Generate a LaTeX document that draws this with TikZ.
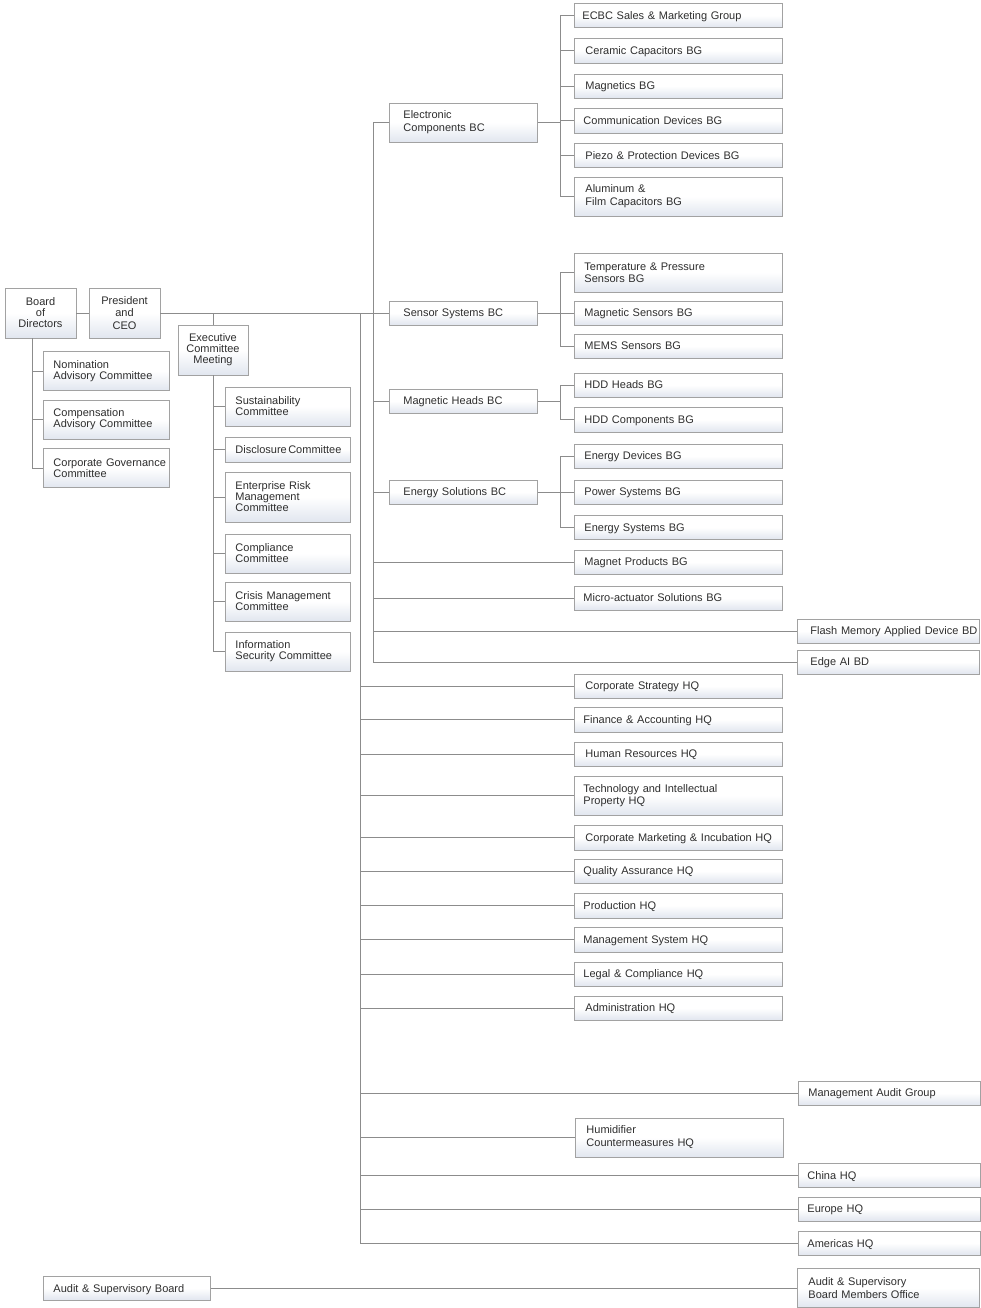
\documentclass[tikz,border=0pt]{standalone}
\usepackage{fontspec}
\setmainfont{Liberation Sans}
\definecolor{boxline}{HTML}{A2A2A2}
\definecolor{boxbot}{HTML}{E1E6EF}
\definecolor{lncol}{HTML}{8C8C8C}
\definecolor{txt}{HTML}{2E2E2E}
\tikzset{
  box/.style={draw=boxline, line width=0.9pt, top color=white, bottom color=boxbot, middle color=white,
    font=\fontsize{11}{11}\selectfont, text=txt, anchor=west, inner ysep=0pt, align=left},
  loose/.style={font=\fontsize{11}{13}\selectfont},
  wbg/.style={box, minimum width=208pt, text width=186pt, inner xsep=11pt},
  wbd/.style={box, minimum width=182pt, text width=160pt, inner xsep=11pt},
  wbc/.style={box, minimum width=148pt, text width=120pt, inner xsep=14pt},
  wcm/.style={box, minimum width=125pt, text width=105pt, inner xsep=10pt},
  wbm/.style={box, minimum width=126pt, text width=106pt, inner xsep=10pt},
  wab/.style={box, minimum width=167pt, text width=147pt, inner xsep=10pt},
  cbox/.style={box, anchor=center, align=center, inner xsep=0pt, minimum height=50pt},
  ha/.style={minimum height=24pt, text depth=0pt},
  hd/.style={minimum height=25pt, text depth=0pt},
  hb/.style={minimum height=39pt},
  hc/.style={minimum height=50pt},
  ln/.style={draw=lncol, line width=0.9pt}
}
\begin{document}
\begin{tikzpicture}[x=1pt,y=-1pt]
\useasboundingbox[fill=white] (0,0) rectangle (981,1308);
% trunk coordinates
\coordinate (tA) at (373,0);
\coordinate (tB) at (360,0);
\coordinate (sv) at (560,0);
\coordinate (bv) at (32,0);
% left column
\node[cbox, minimum width=71pt] (board) at (40.5,313) {Board\\of\\Directors};
\node[cbox, minimum width=71pt, font=\fontsize{11}{12.5}\selectfont] (pres) at (124.5,313) {President\\and\\CEO};
\node[wbm, hb] (nom) at (43,371) {Nomination\\Advisory Committee};
\node[wbm, hb] (comp) at (43,419.5) {Compensation\\Advisory Committee};
\node[wbm, hb] (cgov) at (43,468) {\mbox{Corporate Governance}\\Committee};
\node[cbox, minimum width=70pt] (exec) at (213,350) {Executive\\Committee\\Meeting};
\node[wcm, hb] (sust) at (225,406.5) {Sustainability\\Committee};
\node[wcm, hd] (disc) at (225,449.5) {\mbox{Disclosure\kern1.5pt Committee}};
\node[wcm, hc] (erm) at (225,497) {Enterprise Risk\\Management\\Committee};
\node[wcm, hb] (compl) at (225,553.5) {Compliance\\Committee};
\node[wcm, hb] (crisis) at (225,601.5) {\mbox{Crisis Management}\\Committee};
\node[wcm, hb] (infosec) at (225,651.5) {Information\\\mbox{Security Committee}};
% business companies
\node[wbc, hb, loose] (ecbc) at (389,122.5) {Electronic\\Components BC};
\node[wbc, ha] (sensor) at (389,313) {Sensor Systems BC};
\node[wbc, ha] (mheads) at (389,401) {Magnetic Heads BC};
\node[wbc, ha] (energy) at (389,492) {Energy Solutions BC};
% business groups
\node[wbg, ha, inner xsep=8pt, text width=192pt] (ecbcsm) at (574,15.5) {\mbox{ECBC Sales \& Marketing Group}};
\node[wbg, hd] (ceramic) at (574,50.5) {Ceramic Capacitors BG};
\node[wbg, ha] (magnetics) at (574,86) {Magnetics BG};
\node[wbg, hd, inner xsep=9pt, text width=190pt] (comm) at (574,120.5) {\mbox{Communication Devices BG}};
\node[wbg, ha] (piezo) at (574,155.5) {\mbox{Piezo \& Protection Devices BG}};
\node[wbg, hb, loose] (alum) at (574,196.5) {Aluminum \&\\Film Capacitors BG};
\node[wbg, hb, font=\fontsize{11}{12}\selectfont, inner xsep=10pt, text width=188pt] (temp) at (574,272.5) {Temperature \& Pressure\\Sensors BG};
\node[wbg, ha, inner xsep=10pt, text width=188pt] (msens) at (574,313) {Magnetic Sensors BG};
\node[wbg, ha, inner xsep=10pt, text width=188pt] (mems) at (574,346) {MEMS Sensors BG};
\node[wbg, ha, inner xsep=10pt, text width=188pt] (hddh) at (574,385) {HDD Heads BG};
\node[wbg, hd, inner xsep=10pt, text width=188pt] (hddc) at (574,419.5) {HDD Components BG};
\node[wbg, ha, inner xsep=10pt, text width=188pt] (edev) at (574,456) {Energy Devices BG};
\node[wbg, ha, inner xsep=10pt, text width=188pt] (psys) at (574,492) {Power Systems BG};
\node[wbg, ha, inner xsep=10pt, text width=188pt] (esys) at (574,527.5) {Energy Systems BG};
\node[wbg, ha, inner xsep=10pt, text width=188pt] (magnet) at (574,562) {Magnet Products BG};
\node[wbg, ha, inner xsep=9pt, text width=190pt] (micro) at (574,598) {\mbox{Micro-actuator Solutions BG}};
\node[wbd, ha, inner xsep=13pt, text width=156pt] (flash) at (797,631) {\mbox{Flash Memory Applied Device BD}};
\node[wbd, ha, inner xsep=13pt, text width=156pt] (edge) at (797,662) {Edge AI BD};
% headquarters
\node[wbg, ha] (cstrat) at (574,686) {Corporate Strategy HQ};
\node[wbg, hd, inner xsep=9pt, text width=190pt] (fin) at (574,719.5) {Finance \& Accounting HQ};
\node[wbg, ha] (hr) at (574,754) {Human Resources HQ};
\node[wbg, hb, font=\fontsize{11}{12}\selectfont, inner xsep=9pt, text width=190pt] (tech) at (574,795.5) {Technology and Intellectual\\Property HQ};
\node[wbg, hd] (cmkt) at (574,837.5) {\mbox{Corporate Marketing \& Incubation HQ}};
\node[wbg, ha, inner xsep=9pt, text width=190pt] (qa) at (574,871) {Quality Assurance HQ};
\node[wbg, hd, inner xsep=9pt, text width=190pt] (prod) at (574,905.5) {Production HQ};
\node[wbg, hd, inner xsep=9pt, text width=190pt] (ms) at (574,939.5) {Management System HQ};
\node[wbg, ha, inner xsep=9pt, text width=190pt] (legal) at (574,974) {Legal \& Compliance HQ};
\node[wbg, ha] (admin) at (574,1008) {Administration HQ};
\node[wbd, ha, inner xsep=10pt, text width=162pt] (mag) at (798,1093) {Management Audit Group};
\node[wbg, hb, loose] (humid) at (575,1137.5) {Humidifier\\Countermeasures HQ};
\node[wbd, ha, inner xsep=9pt, text width=164pt] (china) at (798,1175) {China HQ};
\node[wbd, ha, inner xsep=9pt, text width=164pt] (europe) at (798,1209) {Europe HQ};
\node[wbd, ha, inner xsep=9pt, text width=164pt] (americas) at (798,1243) {Americas HQ};
\node[wab, ha] (auditb) at (43,1288) {Audit \& Supervisory Board};
\node[wbd, hb, loose, inner xsep=11pt] (auditoff) at (797,1288) {Audit \& Supervisory\\Board Members Office};
% ---- connectors ----
\draw[ln] (board.east) -- (pres.west);
\draw[ln] (pres.east) -- (sensor.west);
% board committees
\draw[ln] (board.south -| bv) |- (cgov.west);
\foreach \n in {nom,comp}{\draw[ln] (\n.west) -- (\n.west -| bv);}
% executive committee
\draw[ln] (exec.north) -- (exec.north |- pres.east);
\draw[ln] (exec.south) |- (infosec.west);
\foreach \n in {sust,disc,erm,compl,crisis}{\draw[ln] (\n.west) -- (\n.west -| exec.south);}
% BC trunk
\draw[ln] (ecbc.west) -| (tA |- edge.west) -- (edge.west);
\foreach \n in {mheads,energy,magnet,micro,flash}{\draw[ln] (\n.west) -- (\n.west -| tA);}
% HQ trunk
\draw[ln] (tB |- pres.east) |- (americas.west);
\foreach \n in {cstrat,fin,hr,tech,cmkt,qa,prod,ms,legal,admin,mag,humid,china,europe}{\draw[ln] (\n.west) -- (\n.west -| tB);}
% BG subtrees
\draw[ln] (ecbc.east) -- (ecbc.east -| sv);
\draw[ln] (ecbcsm.west) -| (sv |- alum.west) -- (alum.west);
\foreach \n in {ceramic,magnetics,comm,piezo}{\draw[ln] (\n.west) -- (\n.west -| sv);}
\draw[ln] (sensor.east) -- (msens.west);
\draw[ln] (temp.west) -| (sv |- mems.west) -- (mems.west);
\draw[ln] (mheads.east) -- (mheads.east -| sv);
\draw[ln] (hddh.west) -| (sv |- hddc.west) -- (hddc.west);
\draw[ln] (energy.east) -- (psys.west);
\draw[ln] (edev.west) -| (sv |- esys.west) -- (esys.west);
% audit
\draw[ln] (auditb.east) -- (auditoff.west);
\end{tikzpicture}
\end{document}
